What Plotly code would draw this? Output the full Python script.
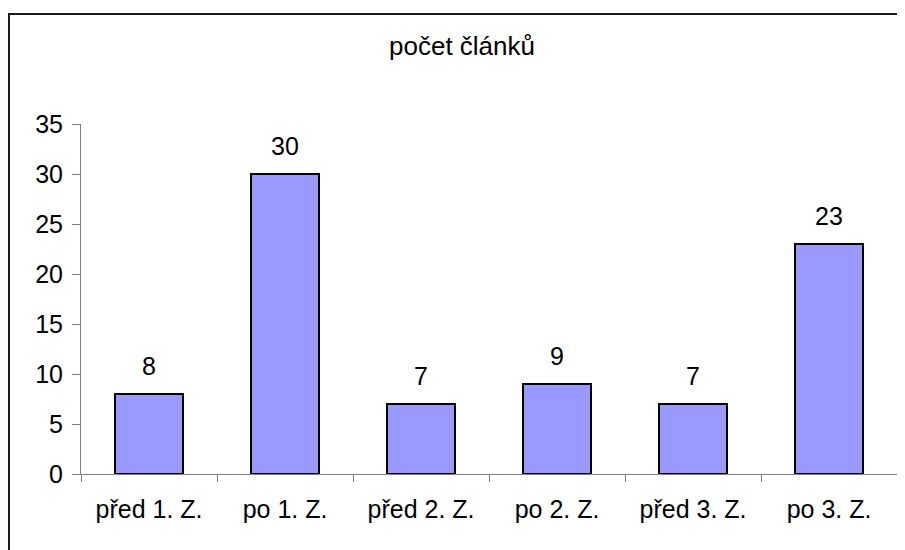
import plotly.graph_objects as go

categories = ["před 1. Z.", "po 1. Z.", "před 2. Z.", "po 2. Z.", "před 3. Z.", "po 3. Z."]
values = [8, 30, 7, 9, 7, 23]
title_text = "počet článků"
y_ticks = [0, 5, 10, 15, 20, 25, 30, 35]

FONT = "Liberation Sans, Arial, sans-serif"
OFF = 8  # default page body margin
W, H = 905 - OFF, 550 - OFF
L, R, T, B = 81 - OFF, 8, 124 - OFF, 76
pw, ph = W - L - R, H - T - B

fig = go.Figure()
fig.add_trace(go.Bar(
    x=categories, y=values, width=0.5,
    marker=dict(color="#9999FF", line=dict(color="#000000", width=2)),
    hoverinfo="skip",
))

for c, v in zip(categories, values):
    fig.add_annotation(x=c, y=v, text=str(v), showarrow=False, yshift=28,
                       font=dict(family=FONT, size=25, color="#000000"))

fig.add_annotation(xref="paper", yref="paper", x=(462 - 81) / pw, y=1 + (124 - 46) / ph,
                   text=title_text, showarrow=False, xanchor="center", yanchor="middle",
                   font=dict(family=FONT, size=26, color="#000000"))

# outer chart border
fig.add_shape(type="rect", xref="paper", yref="paper",
              x0=(9 - 81) / pw, x1=1.5, y0=-1, y1=1 + (124 - 14) / ph,
              line=dict(color="#1a1a1a", width=2), fillcolor="rgba(0,0,0,0)", layer="below")

fig.update_layout(
    width=W, height=H,
    margin=dict(l=L, r=R, t=T, b=B, pad=0),
    paper_bgcolor="#ffffff", plot_bgcolor="#ffffff",
    showlegend=False,
    font=dict(family=FONT, size=25, color="#000000"),
    xaxis=dict(type="category", range=[-0.5, 5.5], showline=True, linecolor="#808080", linewidth=1,
               ticks="outside", tickson="boundaries", ticklen=7, tickcolor="#808080", tickwidth=1,
               showgrid=False, zeroline=False, ticklabelstandoff=13,
               tickfont=dict(family=FONT, size=25, color="#000000")),
    yaxis=dict(range=[0, 35], tickvals=y_ticks, showline=True, linecolor="#808080", linewidth=1,
               ticks="outside", ticklen=8, tickcolor="#808080", tickwidth=1,
               showgrid=False, zeroline=False, ticklabelstandoff=4,
               tickfont=dict(family=FONT, size=25, color="#000000")),
)

fig.write_html("out.html")
